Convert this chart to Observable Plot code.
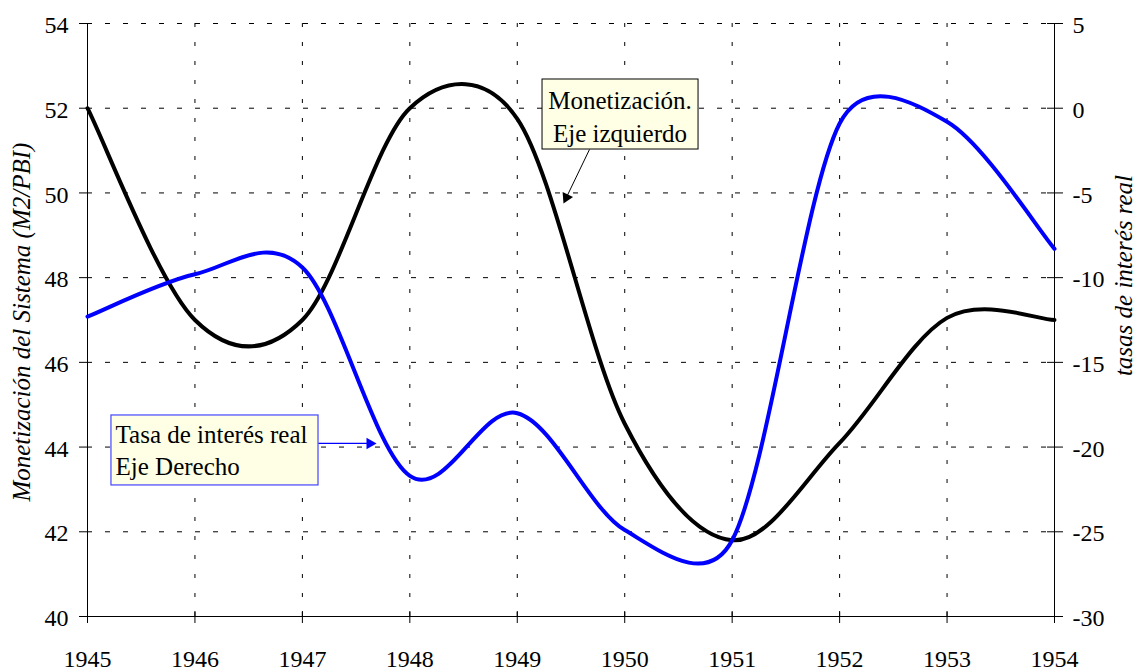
<!DOCTYPE html>
<html>
<head>
<meta charset="utf-8">
<script src="https://cdn.jsdelivr.net/npm/d3@7"></script>
<script src="https://cdn.jsdelivr.net/npm/@observablehq/plot@0.6"></script>
<style>
  html, body { margin: 0; padding: 0; background: #fff; overflow: hidden; }
  #chart svg { display: block; }
  #chart svg text { font-family: 'Liberation Serif', 'Times New Roman', serif; }
</style>
</head>
<body>
<div id="chart"></div>
<script>
// ---- Data ----
const years = [1945, 1946, 1947, 1948, 1949, 1950, 1951, 1952, 1953, 1954];
const monetizacion = [52.0, 47.0, 47.0, 52.0, 51.75, 44.55, 41.8, 44.1, 47.05, 47.0]; // left axis (M2/PBI)
const tasaReal = [-12.3, -9.8, -9.4, -21.7, -18.0, -24.9, -25.5, -0.9, -0.8, -8.3];   // right axis (%)
const leftTicks = [40, 42, 44, 46, 48, 50, 52, 54];
const rightTickLabels = ["-30", "-25", "-20", "-15", "-10", "-5", "0", "5"];
const yearLabels = ["1945", "1946", "1947", "1948", "1949", "1950", "1951", "1952", "1953", "1954"];

// right axis [-30, 5] mapped onto left axis [40, 54]
const R0 = -30, R1 = 5, L0 = 40, L1 = 54;
const toLeft = v => L0 + (v - R0) * (L1 - L0) / (R1 - R0);

const monData = years.map((year, i) => ({year, value: monetizacion[i]}));
const tasaData = years.map((year, i) => ({year, value: toLeft(tasaReal[i])}));

// Excel-style smoothed line (Bezier, tension 1/6 with half-segment limit)
function curveExcel(context) {
  let pts = [];
  const dist = (a, b) => Math.hypot(a[0] - b[0], a[1] - b[1]);
  return {
    areaStart() {}, areaEnd() {},
    lineStart() { pts = []; },
    point(x, y) { pts.push([+x, +y]); },
    lineEnd() {
      const n = pts.length;
      if (!n) return;
      context.moveTo(pts[0][0], pts[0][1]);
      for (let i = 0; i < n - 1; i++) {
        const p0 = pts[Math.max(i - 1, 0)], p1 = pts[i], p2 = pts[i + 1], p3 = pts[Math.min(i + 2, n - 1)];
        const d12 = dist(p1, p2), d02 = dist(p0, p2), d13 = dist(p1, p3);
        const f0 = (d02 / 6 < d12 / 2 || d02 === 0) ? 1 / 6 : d12 / (2 * d02);
        const f1 = (d13 / 6 < d12 / 2 || d13 === 0) ? 1 / 6 : d12 / (2 * d13);
        context.bezierCurveTo(
          p1[0] + (p2[0] - p0[0]) * f0, p1[1] + (p2[1] - p0[1]) * f0,
          p2[0] - (p3[0] - p1[0]) * f1, p2[1] - (p3[1] - p1[1]) * f1,
          p2[0], p2[1]
        );
      }
    }
  };
}

const serif = "Liberation Serif";

const chart = Plot.plot({
  width: 1145,
  height: 670,
  marginLeft: 87,
  marginRight: 91,
  marginTop: 23,
  marginBottom: 54,
  x: {domain: [1945, 1954]},
  y: {domain: [40, 54]},
  style: {fontFamily: serif, fontSize: "24px", color: "#000", background: "#fff", overflow: "visible"},
  marks: [
    // grid
    Plot.gridY(leftTicks.slice(1), {stroke: "#000", strokeOpacity: 1, strokeWidth: 1, strokeDasharray: "5,13"}),
    Plot.gridX(years.slice(1, -1), {stroke: "#000", strokeOpacity: 1, strokeWidth: 1, strokeDasharray: "4,15"}),
    // frame lines (left, right, bottom)
    Plot.ruleX([years[0], years[years.length - 1]], {stroke: "#000", strokeWidth: 1}),
    Plot.ruleY([leftTicks[0]], {stroke: "#000", strokeWidth: 1}),
    // tick marks
    Plot.axisY({anchor: "left", ticks: leftTicks, tickSize: 8, tickFormat: () => "", label: null}),
    Plot.axisY({anchor: "right", ticks: leftTicks, tickSize: 8, tickFormat: () => "", label: null}),
    Plot.axisY({anchor: "left", frameAnchor: "right", ticks: leftTicks, tickSize: 7, tickFormat: () => "", label: null}),
    Plot.axisX({anchor: "bottom", ticks: years, tickSize: 7, tickFormat: () => "", label: null}),
    Plot.axisX({anchor: "top", frameAnchor: "bottom", ticks: years, tickSize: 6, tickFormat: () => "", label: null}),
    // tick labels
    Plot.text(leftTicks, {y: d => d, text: d => String(d), frameAnchor: "left", dx: -19, dy: 2,
      textAnchor: "end", lineAnchor: "middle", fontSize: 24, fontFamily: serif, fill: "#000"}),
    Plot.text(leftTicks, {y: d => d, text: d => rightTickLabels[leftTicks.indexOf(d)], frameAnchor: "right", dx: 18, dy: 2,
      textAnchor: "start", lineAnchor: "middle", fontSize: 24, fontFamily: serif, fill: "#000"}),
    Plot.text(years, {x: d => d, text: d => yearLabels[years.indexOf(d)], frameAnchor: "bottom", dy: 33,
      textAnchor: "middle", lineAnchor: "top", fontSize: 24, fontFamily: serif, fill: "#000"}),
    // axis titles
    Plot.text([{x: 1944.395, y: 46.95, t: "Monetización del Sistema (M2/PBI)"}],
      {x: "x", y: "y", text: "t", rotate: -90, textAnchor: "middle", lineAnchor: "middle",
       fontStyle: "italic", fontSize: 25, fontFamily: serif, fill: "#000"}),
    Plot.text([{x: 1954.643, y: 48.05, t: "tasas de interés real"}],
      {x: "x", y: "y", text: "t", rotate: -90, textAnchor: "middle", lineAnchor: "middle",
       fontStyle: "italic", fontSize: 25, fontFamily: serif, fill: "#000"}),
    // series
    Plot.line(monData, {x: "year", y: "value", stroke: "#000", strokeWidth: 4, curve: curveExcel}),
    Plot.line(tasaData, {x: "year", y: "value", stroke: "#0000ff", strokeWidth: 4, curve: curveExcel}),
    // annotation 1: Monetización
    Plot.rect([{x1: 1949.235, x2: 1950.687, y1: 52.678, y2: 51.025}],
      {x1: "x1", x2: "x2", y1: "y1", y2: "y2", fill: "#ffffe6", stroke: "#000", strokeWidth: 1}),
    Plot.text([{x: 1949.956, y: 51.21, t: "Monetización.\nEje izquierdo"}],
      {x: "x", y: "y", text: "t", textAnchor: "middle", lineAnchor: "bottom", lineHeight: 1.32,
       fontSize: 25, fontFamily: serif, fill: "#000"}),
    Plot.link([{x1: 1949.672, y1: 51.025, x2: 1949.457, y2: 49.892}],
      {x1: "x1", y1: "y1", x2: "x2", y2: "y2", stroke: "#000", strokeWidth: 1}),
    Plot.dot([{x: 1949.457, y: 49.892}],
      {x: "x", y: "y", symbol: "triangle", r: 4.3, fill: "#000", stroke: "none", rotate: 205.7}),
    // annotation 2: Tasa de interés real
    Plot.rect([{x1: 1945.223, x2: 1947.150, y1: 44.746, y2: 43.094}],
      {x1: "x1", x2: "x2", y1: "y1", y2: "y2", fill: "#ffffe6", stroke: "#4444ff", strokeWidth: 1.2}),
    Plot.text([{x: 1945.261, y: 43.33, t: "Tasa de interés real\nEje Derecho"}],
      {x: "x", y: "y", text: "t", textAnchor: "start", lineAnchor: "bottom", lineHeight: 1.28,
       fontSize: 25, fontFamily: serif, fill: "#000"}),
    Plot.link([{x1: 1947.150, y1: 44.085, x2: 1947.628, y2: 44.085}],
      {x1: "x1", y1: "y1", x2: "x2", y2: "y2", stroke: "#0000ff", strokeWidth: 1.2}),
    Plot.dot([{x: 1947.628, y: 44.085}],
      {x: "x", y: "y", symbol: "triangle", r: 4.3, fill: "#0000ff", stroke: "none", rotate: 90})
  ]
});

document.getElementById("chart").appendChild(chart);
</script>
</body>
</html>
